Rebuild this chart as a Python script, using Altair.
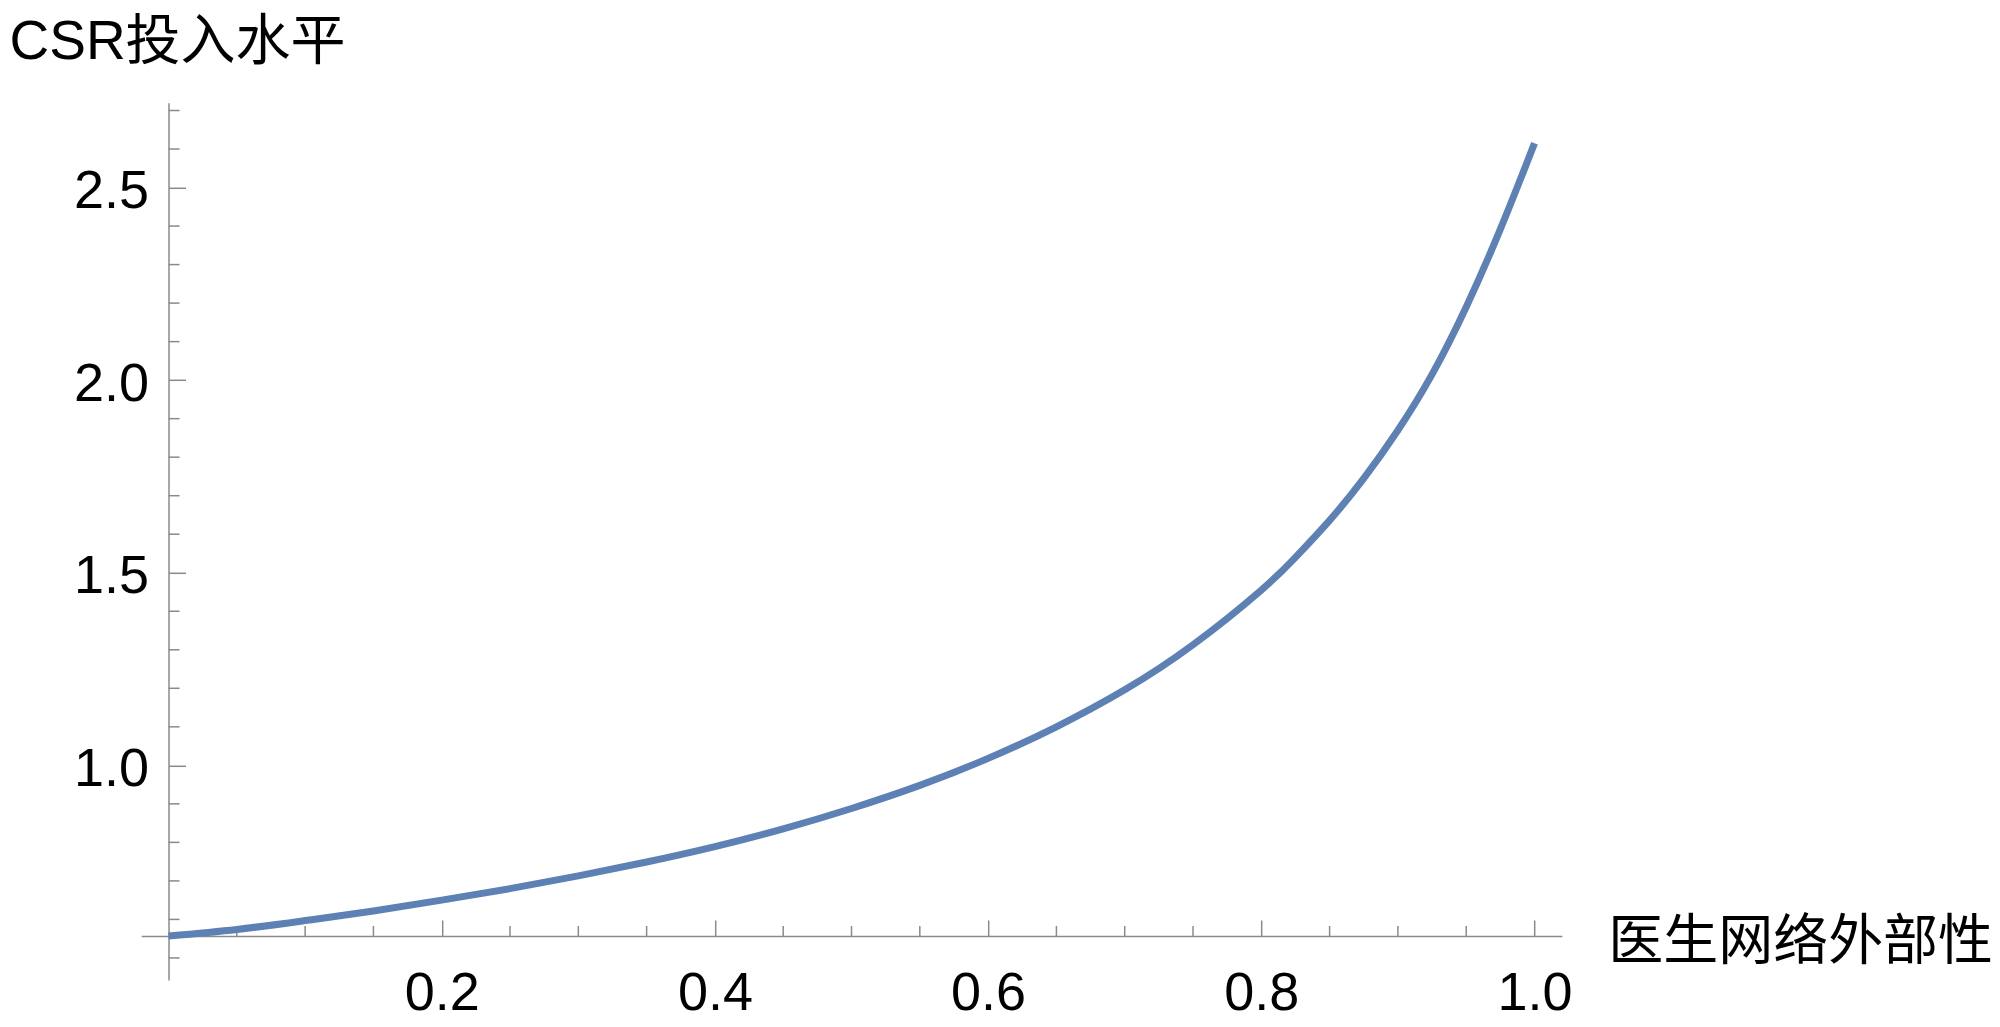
import altair as alt
import pandas as pd

# ---- data ----
x_vals = [0.0, 0.05, 0.1, 0.15, 0.2, 0.25, 0.3, 0.35, 0.4, 0.45, 0.5, 0.55, 0.6,
          0.65, 0.7, 0.75, 0.8, 0.825, 0.85, 0.875, 0.9, 0.925, 0.95, 0.975, 1.0]
y_vals = [0.557, 0.574, 0.597, 0.622, 0.650, 0.680, 0.713, 0.749, 0.789, 0.835,
          0.888, 0.948, 1.018, 1.100, 1.196, 1.313, 1.455, 1.540, 1.636, 1.745,
          1.870, 2.015, 2.190, 2.392, 2.615]

x_major = [0.2, 0.4, 0.6, 0.8, 1.0]
x_minor = [0.05, 0.1, 0.15, 0.25, 0.3, 0.35, 0.45, 0.5, 0.55, 0.65, 0.7, 0.75,
           0.85, 0.9, 0.95]
y_major = [1.0, 1.5, 2.0, 2.5]
y_minor = [0.5, 0.6, 0.7, 0.8, 0.9, 1.1, 1.2, 1.3, 1.4, 1.6, 1.7, 1.8, 1.9,
           2.1, 2.2, 2.3, 2.4, 2.6, 2.7]

x_title = "医生网络外部性"
y_title = "CSR投入水平"

x_domain = [-0.02, 1.02]
y_domain = [0.443, 2.72]
origin_x = 0.0
origin_y = 0.557

# ---- layout ----
PX_X = 1366.0   # pixels per x unit
PX_Y = 385.2    # pixels per y unit
W = (x_domain[1] - x_domain[0]) * PX_X
H = (y_domain[1] - y_domain[0]) * PX_Y
X_AXIS_OFFSET = -(y_domain[1] - origin_y) * PX_Y
Y_AXIS_OFFSET = -(x_domain[1] - origin_x) * PX_X

GRAY = "#8a8a8a"
LINE = "#5E81B5"
LATIN = "Liberation Sans, Arial, Noto Sans CJK SC"
CJK = "Noto Sans CJK SC"

xs = alt.Scale(domain=x_domain, nice=False, zero=False)
ys = alt.Scale(domain=y_domain, nice=False, zero=False)

xaxis = alt.Axis(
    orient="top", offset=X_AXIS_OFFSET, values=x_major, format=".1f", grid=False,
    domainColor=GRAY, domainWidth=1.5, tickColor=GRAY, tickWidth=1.5, tickSize=16,
    labelFont=LATIN, labelFontSize=54, labelColor="black", labelPadding=-89.4,
    labelBaseline="alphabetic", labelAlign="center", labelFlush=False,
    labelOverlap=False,
    title=x_title, titleFont=CJK, titleFontSize=55, titleFontWeight="normal",
    titleColor="black", titleX=1466.5, titleY=23, titleAlign="left",
    titleBaseline="alphabetic", titleAngle=0,
)
yaxis = alt.Axis(
    orient="right", offset=Y_AXIS_OFFSET, values=y_major, format=".1f", grid=False,
    domainColor=GRAY, domainWidth=1.5, tickColor=GRAY, tickWidth=1.5, tickSize=17,
    labelFont=LATIN, labelFontSize=54, labelColor="black", labelPadding=-37,
    labelAlign="right", labelBaseline="alphabetic", labelOffset=20,
    labelFlush=False, labelOverlap=False,
    title=y_title, titleFont=LATIN, titleFontSize=55, titleFontWeight="normal",
    titleColor="black", titleX=-159.5, titleY=-44.5, titleAlign="left",
    titleBaseline="alphabetic", titleAngle=0,
)

curve_df = pd.DataFrame({"x": x_vals, "y": y_vals})
xminor_df = pd.DataFrame({"t": x_minor})
yminor_df = pd.DataFrame({"v": y_minor})

curve = alt.Chart(curve_df).mark_line(
    color=LINE, strokeWidth=7, interpolate="natural", clip=False
).encode(
    x=alt.X("x:Q", scale=xs, axis=xaxis, title=x_title),
    y=alt.Y("y:Q", scale=ys, axis=yaxis, title=y_title),
)

xminor = alt.Chart(xminor_df).mark_rule(
    color=GRAY, strokeWidth=1.5, y2Offset=-10
).encode(
    x=alt.X("t:Q", scale=xs, axis=xaxis, title=x_title),
    y=alt.YDatum(origin_y, scale=ys, axis=yaxis, title=y_title),
    y2=alt.Y2Datum(origin_y),
)

yminor = alt.Chart(yminor_df).mark_rule(
    color=GRAY, strokeWidth=1.5, x2Offset=11
).encode(
    y=alt.Y("v:Q", scale=ys, axis=yaxis, title=y_title),
    x=alt.XDatum(origin_x, scale=xs, axis=xaxis, title=x_title),
    x2=alt.X2Datum(origin_x),
)

chart = alt.layer(xminor, yminor, curve).properties(
    width=W,
    height=H,
    padding={"left": 133.2, "top": 94.8, "right": 430, "bottom": 45},
    autosize=alt.AutoSizeParams(type="none"),
    background="white",
).configure_view(stroke=None)

chart.save("out.html", embed_options={"renderer": "svg", "actions": False})
